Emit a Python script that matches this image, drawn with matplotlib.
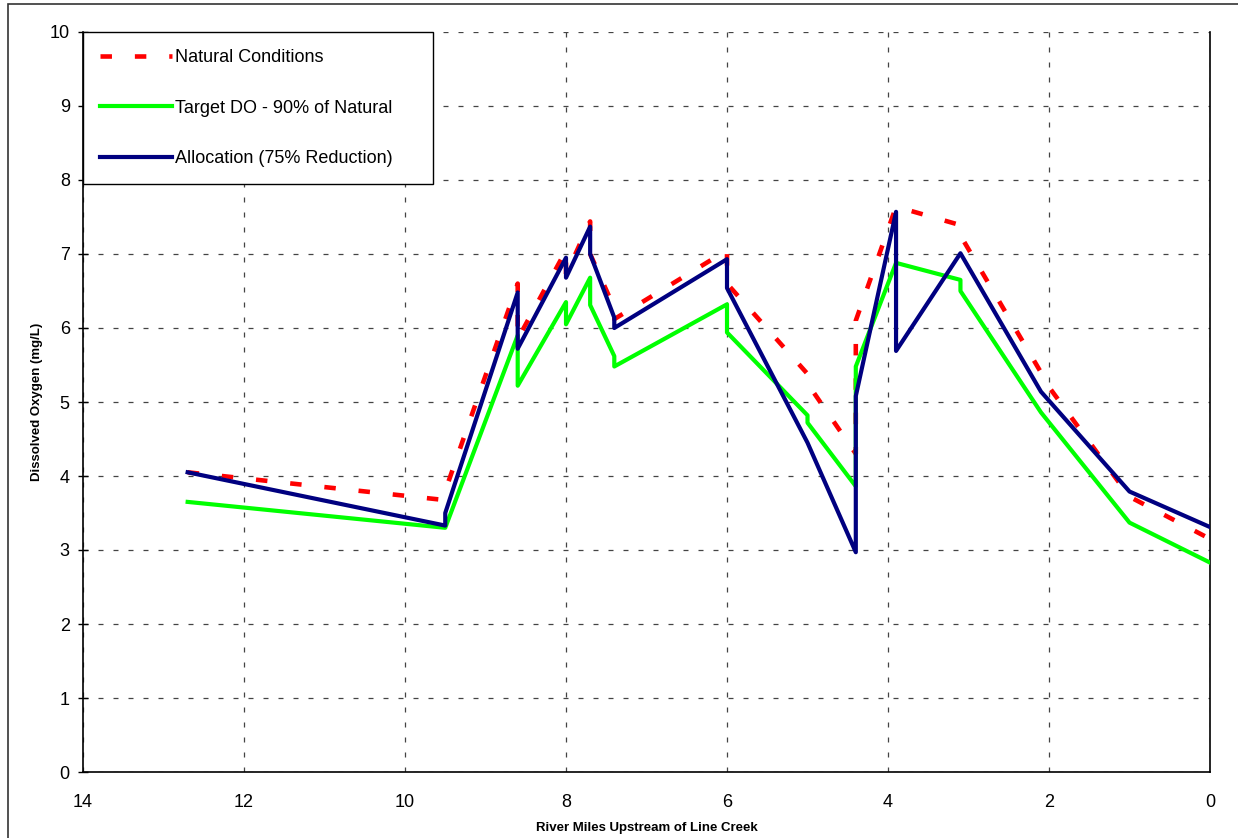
import matplotlib.pyplot as plt
from matplotlib.patches import Rectangle

# river miles / DO values
nat_x = [12.7, 9.55, 9.5, 8.6, 8.6, 8.0, 8.0, 7.7, 7.7, 7.4, 7.4, 6.0, 6.0,
         5.0, 5.0, 4.4, 4.4, 3.9, 3.1, 3.1, 2.1, 2.1, 1.0, 0.0]
nat_y = [4.05, 3.68, 3.8, 6.6, 5.85, 7.05, 6.72, 7.44, 7.0, 6.27, 6.12, 7.05,
         6.6, 5.38, 5.25, 4.3, 6.1, 7.64, 7.39, 7.25, 5.4, 5.35, 3.72, 3.15]

tgt_x = [12.7, 9.5, 8.6, 8.6, 8.0, 8.0, 7.7, 7.7, 7.4, 7.4, 6.0, 6.0,
         5.0, 5.0, 4.4, 4.4, 3.9, 3.1, 3.1, 2.1, 1.0, 0.0]
tgt_y = [3.65, 3.3, 5.9, 5.22, 6.35, 6.05, 6.68, 6.31, 5.62, 5.48, 6.32, 5.94,
         4.82, 4.72, 3.86, 5.48, 6.88, 6.65, 6.5, 4.86, 3.37, 2.83]

alloc_x = [12.7, 9.5, 9.5, 8.6, 8.6, 8.0, 8.0, 7.7, 7.7, 7.4, 7.4, 6.0, 6.0,
           5.0, 4.4, 4.4, 3.9, 3.9, 3.1, 2.1, 1.0, 0.0]
alloc_y = [4.05, 3.33, 3.5, 6.48, 5.72, 6.95, 6.68, 7.37, 7.0, 6.14, 6.0, 6.93,
           6.54, 4.45, 2.97, 5.08, 7.57, 5.69, 7.01, 5.14, 3.79, 3.31]

x_ticks = [14, 12, 10, 8, 6, 4, 2, 0]
y_ticks = list(range(0, 11))

plt.rcParams['font.family'] = ['Liberation Sans', 'DejaVu Sans']

fig = plt.figure(figsize=(12.38, 8.38), dpi=100)
ax = fig.add_axes([83 / 1238, 66 / 838, 1127 / 1238, 740 / 838])

# outer chart-area border
fig.patches.append(Rectangle((8 / 1238, -0.01), 1.0, (834 / 838) + 0.01,
                             transform=fig.transFigure, fill=False,
                             edgecolor='#333333', linewidth=1.2))

ax.plot(nat_x, nat_y, color='#ff0000', linewidth=3.3, dashes=(2.5, 5),
        dash_capstyle='butt', label='Natural Conditions', zorder=3)
ax.plot(tgt_x, tgt_y, color='#00ff00', linewidth=3,
        label='Target DO - 90% of Natural', zorder=4)
ax.plot(alloc_x, alloc_y, color='#000080', linewidth=3,
        label='Allocation (75% Reduction)', zorder=5)

ax.set_xlim(14, 0)
ax.set_ylim(0, 10)
ax.set_xticks(x_ticks)
ax.set_yticks(y_ticks)
ax.tick_params(axis='x', length=0, pad=16, labelsize=13)
ax.tick_params(axis='y', direction='inout', length=7, width=1, pad=6,
               labelsize=13)
ax.grid(True, color='#444444', linestyle=(0, (4, 8)), linewidth=0.9)
ax.spines['top'].set_visible(False)
for s in ['left', 'right', 'bottom']:
    ax.spines[s].set_linewidth(1.2)

lab_font = dict(family=['Liberation Sans Narrow', 'Liberation Sans'],
                weight='bold', size=9.5)
ax.set_xlabel('River Miles Upstream of Line Creek', labelpad=8, **lab_font)
ax.set_ylabel('Dissolved Oxygen (mg/L)', labelpad=5, **lab_font)

leg = ax.legend(loc='upper left', bbox_to_anchor=(0, 1, 350 / 1127, 0),
                mode='expand', fontsize=13, fancybox=False, framealpha=1,
                edgecolor='black', borderpad=0.95, labelspacing=1.85,
                handlelength=4.0, handletextpad=0.15, borderaxespad=0)
leg.get_frame().set_linewidth(1.0)
leg.set_zorder(10)

fig.savefig('out.png', dpi=100)
